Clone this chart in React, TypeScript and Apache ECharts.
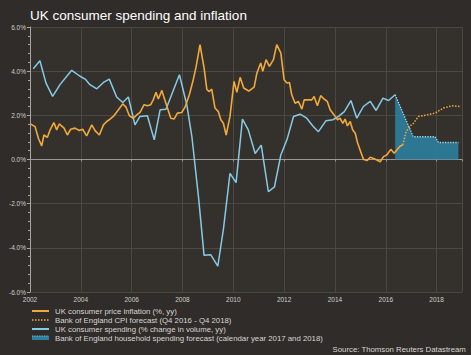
import React, { useEffect, useRef } from "react";
import * as echarts from "echarts";

// UK consumer price inflation (%, yy) — [year, value]
const cpiActual: [number, number][] = [
  [2002.03, 1.6], [2002.2, 1.49], [2002.33, 0.96], [2002.46, 0.61], [2002.55, 1.11], [2002.68, 1.0],
  [2002.79, 1.34], [2002.94, 1.67], [2003.05, 1.34], [2003.15, 1.61], [2003.34, 1.42], [2003.47, 1.11],
  [2003.6, 1.37], [2003.77, 1.42], [2003.94, 1.31], [2004.07, 1.37], [2004.23, 1.07], [2004.43, 1.57],
  [2004.56, 1.31], [2004.73, 1.11], [2004.89, 1.57], [2005.02, 1.72], [2005.15, 1.83], [2005.28, 1.95],
  [2005.48, 2.25], [2005.65, 2.52], [2005.78, 2.37], [2005.91, 1.98], [2006.07, 1.87], [2006.2, 2.02],
  [2006.33, 2.13], [2006.49, 2.48], [2006.62, 2.43], [2006.75, 2.48], [2006.85, 2.7], [2006.96, 3.04],
  [2007.05, 2.74], [2007.19, 3.13], [2007.28, 2.78], [2007.38, 2.43], [2007.54, 1.87], [2007.67, 1.83],
  [2007.8, 2.1], [2007.97, 2.13], [2008.1, 2.37], [2008.27, 2.93], [2008.41, 3.54], [2008.54, 4.22],
  [2008.69, 5.2], [2008.85, 4.15], [2008.96, 3.16], [2009.06, 3.08], [2009.15, 3.19], [2009.28, 2.33],
  [2009.41, 2.17], [2009.51, 1.8], [2009.61, 1.64], [2009.72, 1.11], [2009.87, 1.95], [2010.03, 3.54],
  [2010.14, 3.04], [2010.27, 3.72], [2010.41, 3.24], [2010.61, 3.1], [2010.82, 3.28], [2010.93, 3.92],
  [2011.08, 4.37], [2011.16, 3.99], [2011.29, 4.52], [2011.42, 4.22], [2011.58, 4.52], [2011.71, 5.2],
  [2011.87, 4.83], [2012.0, 3.61], [2012.11, 3.46], [2012.21, 3.49], [2012.3, 2.93], [2012.43, 2.55],
  [2012.56, 2.63], [2012.7, 2.28], [2012.79, 2.7], [2012.96, 2.7], [2013.09, 2.7], [2013.18, 2.85],
  [2013.31, 2.43], [2013.44, 2.89], [2013.57, 2.74], [2013.7, 2.63], [2013.81, 2.25], [2013.97, 2.02],
  [2014.1, 1.8], [2014.2, 1.87], [2014.31, 1.64], [2014.4, 1.83], [2014.49, 1.52], [2014.6, 1.72],
  [2014.7, 1.34], [2014.8, 1.19], [2014.89, 0.76], [2014.99, 0.43], [2015.12, 0.01], [2015.26, -0.05],
  [2015.39, 0.1], [2015.52, 0.05], [2015.65, -0.02], [2015.78, -0.1], [2015.91, 0.13], [2016.04, 0.2],
  [2016.2, 0.46], [2016.33, 0.28], [2016.46, 0.46], [2016.57, 0.61], [2016.67, 0.66],
];

// Bank of England CPI forecast (Q4 2016 - Q4 2018)
const cpiForecast: [number, number][] = [
  [2016.67, 0.66], [2016.8, 1.26], [2016.96, 1.52], [2017.09, 1.64], [2017.29, 1.95], [2017.62, 2.02],
  [2017.94, 2.1], [2018.27, 2.33], [2018.6, 2.43], [2018.93, 2.4],
];

// UK consumer spending (% change in volume, yy)
const spendingActual: [number, number][] = [
  [2002.13, 4.11], [2002.39, 4.47], [2002.63, 3.46], [2002.89, 2.86], [2003.18, 3.39], [2003.64, 4.04],
  [2003.97, 3.77], [2004.17, 3.64], [2004.36, 3.39], [2004.63, 3.2], [2004.89, 3.49], [2005.12, 3.64],
  [2005.41, 2.83], [2005.65, 2.58], [2005.87, 2.83], [2006.13, 1.57], [2006.33, 1.95], [2006.62, 1.98],
  [2006.89, 0.89], [2007.12, 2.25], [2007.35, 2.28], [2007.88, 3.84], [2008.17, 2.48], [2008.37, 1.04],
  [2008.63, -1.69], [2008.85, -4.34], [2009.11, -4.31], [2009.39, -4.83], [2009.61, -3.17], [2009.87, -0.63],
  [2010.11, -1.05], [2010.36, 1.83], [2010.59, 1.34], [2010.86, 0.27], [2011.1, 0.65], [2011.38, -1.46],
  [2011.62, -1.24], [2011.87, 0.2], [2012.11, 0.89], [2012.37, 1.95], [2012.63, 2.05], [2012.89, 1.87],
  [2013.13, 1.52], [2013.35, 1.26], [2013.65, 1.76], [2013.92, 1.8], [2014.14, 1.95], [2014.37, 2.17],
  [2014.63, 2.67], [2014.86, 1.87], [2015.12, 2.4], [2015.39, 2.63], [2015.62, 2.22], [2015.89, 2.78],
  [2016.11, 2.67], [2016.37, 2.93],
];

// Bank of England household spending forecast (calendar year 2017 and 2018)
const spendingForecast: [number, number][] = [
  [2016.37, 2.93], [2017.08, 1.03], [2017.94, 1.03], [2018.08, 0.77], [2018.86, 0.77],
];

const legendLabels = [
  "UK consumer price inflation (%, yy)",
  "Bank of England CPI forecast (Q4 2016 - Q4 2018)",
  "UK consumer spending (% change in volume, yy)",
  "Bank of England household spending forecast (calendar year 2017 and 2018)",
];

const ORANGE = "#f2a93b";
const BLUE = "#86cbe6";
const TEAL = "#2c7f9f";
const FONT = "'Liberation Sans', Arial, sans-serif";

export default function App() {
  const ref = useRef<HTMLDivElement>(null);
  useEffect(() => {
    document.body.style.margin = "0";
    document.body.style.background = "#2f2c29";
    if (!ref.current) return;
    const chart = echarts.init(ref.current, null, { renderer: "svg" });
    const rowY = [311, 320, 329, 338];
    const legendGraphics: any[] = [];
    const iconX1 = 32, iconX2 = 49;
    legendGraphics.push({ type: "line", shape: { x1: iconX1, y1: rowY[0], x2: iconX2, y2: rowY[0] }, style: { stroke: ORANGE, lineWidth: 2 } });
    legendGraphics.push({ type: "line", shape: { x1: iconX1, y1: rowY[1], x2: iconX2, y2: rowY[1] }, style: { stroke: ORANGE, lineWidth: 1.5, lineDash: [1.5, 1.5] } });
    legendGraphics.push({ type: "line", shape: { x1: iconX1, y1: rowY[2], x2: iconX2, y2: rowY[2] }, style: { stroke: BLUE, lineWidth: 2 } });
    legendGraphics.push({ type: "rect", shape: { x: iconX1, y: rowY[3] - 2, width: iconX2 - iconX1, height: 4 }, style: { fill: TEAL } });
    legendGraphics.push({ type: "line", shape: { x1: iconX1, y1: rowY[3] - 2, x2: iconX2, y2: rowY[3] - 2 }, style: { stroke: BLUE, lineWidth: 1.2, lineDash: [1.2, 1.2] } });
    legendLabels.forEach((t, i) => {
      legendGraphics.push({
        type: "text", x: 55, y: rowY[i],
        style: { text: t, fill: "#d8d6d2", font: `7.8px ${FONT}`, verticalAlign: "middle", align: "left" },
      });
    });
    legendGraphics.push({
      type: "text", right: 5, top: 345,
      style: { text: "Source: Thomson Reuters Datastream", fill: "#d8d6d2", font: `7.8px ${FONT}` },
    });

    chart.setOption({
      animation: false,
      backgroundColor: "#2f2c29",
      title: {
        text: "UK consumer spending and inflation",
        left: 25, top: 3,
        textStyle: { color: "#ffffff", fontSize: 13.5, fontWeight: "normal", fontFamily: FONT },
      },
      grid: { left: 30, right: 9, top: 27, bottom: 63, show: true, backgroundColor: "#34312d", borderWidth: 0 },
      xAxis: [
        {
          type: "value", min: 2002, max: 2019, interval: 2,
          axisLine: { show: false, onZero: false },
          axisTick: { show: false },
          axisLabel: { color: "#d0cec9", fontSize: 6.5, fontFamily: FONT, margin: 4, showMaxLabel: false, formatter: (v: number) => String(v) },
          splitLine: { show: true, lineStyle: { color: "#4b4844", width: 1 } },
        },
        {
          type: "value", min: 2002, max: 2019, interval: 2, position: "bottom",
          axisLine: { show: true, onZero: true, lineStyle: { color: "#9a9894", width: 1 } },
          axisTick: { show: true, length: 2, lineStyle: { color: "#9a9894" } },
          axisLabel: { show: false },
          splitLine: { show: false },
        },
      ],
      yAxis: {
        type: "value", min: -6, max: 6, interval: 2,
        axisLine: { show: true, onZero: false, lineStyle: { color: "#a9a7a3" } },
        axisTick: { show: true, length: 3, lineStyle: { color: "#a9a7a3" } },
        minorTick: { show: true, splitNumber: 5, length: 2, lineStyle: { color: "#a9a7a3" } },
        axisLabel: { color: "#d0cec9", fontSize: 6.5, fontFamily: FONT, margin: 4, formatter: (v: number) => v.toFixed(1) + "%" },
        splitLine: { show: true, lineStyle: { color: "#4b4844", width: 1 } },
      },
      graphic: legendGraphics,
      series: [
        {
          name: legendLabels[3], type: "line", data: spendingForecast, showSymbol: false, symbol: "none",
          lineStyle: { color: "#a7dcf0", width: 1.3, type: [1.3, 1.3] },
          areaStyle: { color: TEAL, opacity: 0.9 },
          z: 1,
        },
        {
          name: legendLabels[2], type: "line", data: spendingActual, showSymbol: false, symbol: "none",
          lineStyle: { color: BLUE, width: 1.5 }, z: 2,
        },
        {
          name: legendLabels[0], type: "line", data: cpiActual, showSymbol: false, symbol: "none",
          lineStyle: { color: ORANGE, width: 1.6 }, z: 3,
        },
        {
          name: legendLabels[1], type: "line", data: cpiForecast, showSymbol: false, symbol: "none",
          lineStyle: { color: ORANGE, width: 1.5, type: [1.5, 1.5] }, z: 3,
        },
      ],
    });
    return () => chart.dispose();
  }, []);
  return <div ref={ref} style={{ width: 471, height: 355 }} />;
}
